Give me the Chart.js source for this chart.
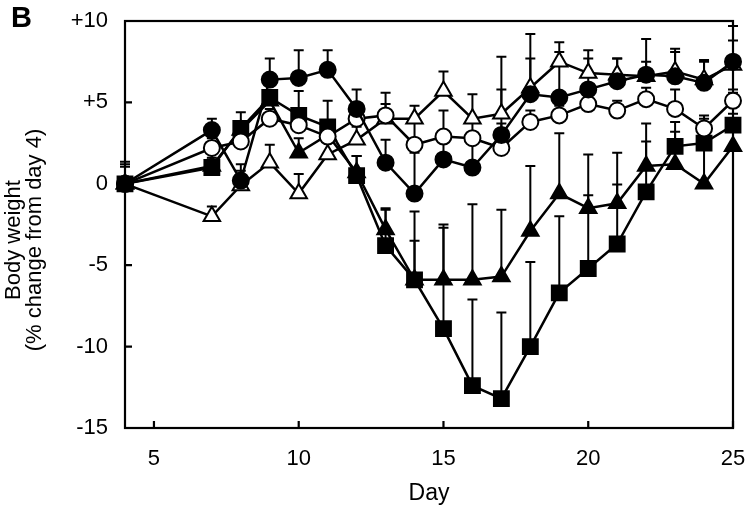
<!DOCTYPE html>
<html>
<head>
<meta charset="utf-8">
<script src="https://cdn.jsdelivr.net/npm/chart.js@4.4.0/dist/chart.umd.min.js"></script>
<style>
  html, body { margin: 0; padding: 0; background: #fff; }
  #wrap { position: relative; width: 750px; height: 513px; }
  #panel { position: absolute; left: 11px; top: 1px; font: bold 29px 'Liberation Sans', Arial, sans-serif; color: #000; }
</style>
</head>
<body>
<div id="wrap">
  <canvas id="chart" width="750" height="513"></canvas>
  <div id="panel">B</div>
</div>
<script>
// days measured
let days = [4, 7, 8, 9, 10, 11, 12, 13, 14, 15, 16, 17, 18, 19, 20, 21, 22, 23, 24, 25];

// mean % change, one list per group
let filledCircle   = [0, 3.3, 0.2, 6.4, 6.5, 7.0, 4.6, 1.3, -0.6, 1.5, 1.0, 3.0, 5.5, 5.3, 5.8, 6.3, 6.7, 6.6, 6.2, 7.5];
let openCircle     = [0, 2.2, 2.6, 4.0, 3.6, 2.9, 4.0, 4.2, 2.4, 2.9, 2.8, 2.2, 3.8, 4.2, 4.9, 4.5, 5.2, 4.6, 3.4, 5.1];
let openTriangle   = [0, -2.0, -0.1, 1.3, -0.6, 1.8, 2.7, 4.0, 4.0, 5.7, 4.0, 4.3, 5.9, 7.5, 6.8, 6.7, 6.6, 6.9, 6.4, 7.3];
let filledTriangle = [0, 1.1, 3.3, 5.1, 1.9, 3.0, 0.7, -2.8, -5.9, -5.9, -5.9, -5.7, -2.9, -0.6, -1.5, -1.2, 1.1, 1.2, 0.0, 2.3];
let filledSquare   = [0, 1.0, 3.4, 5.3, 4.2, 3.5, 0.5, -3.8, -5.9, -8.9, -12.4, -13.2, -10.0, -6.7, -5.2, -3.7, -0.5, 2.3, 2.5, 3.6];

// upper error bars (SD)
let errFilledCircle   = [1.35, 0.7, 1.0, 1.3, 1.7, 1.2, 1.2, 1.4, 2.5, 1.4, 1.5, 2.8, 2.2, 2.8, 1.9, 1.4, 2.2, 1.7, 1.4, 2.2];
let errOpenCircle     = [1.2, 0.6, 0.8, 0.6, 0.8, 1.0, 0.9, 1.4, 1.5, 1.6, 1.0, 1.5, 0.7, 0.6, 0.5, 0.6, 0.7, 1.2, 0.8, 0.7];
let errOpenTriangle   = [0, 0.6, 0.9, 1.1, 1.2, 1.1, 0.8, 0.9, 0.8, 1.2, 1.5, 3.5, 3.3, 1.2, 1.4, 1.0, 0.9, 1.2, 1.1, 1.5];
let errFilledTriangle = [0, 0.5, 0.5, 0.5, 0.9, 0.8, 1.0, 1.2, 2.4, 3.2, 4.65, 4.1, 4.0, 3.7, 3.3, 3.1, 2.6, 2.0, 2.5, 2.0];
let errFilledSquare   = [1.05, 0.5, 1.0, 0.4, 1.5, 1.6, 1.2, 2.3, 4.2, 6.4, 5.3, 5.3, 5.2, 4.7, 4.5, 3.65, 3.1, 1.5, 1.5, 2.0];

let xTicks = [5, 10, 15, 20, 25];
let yTicks = [-15, -10, -5, 0, 5, 10];
let yTitle = ['Body weight', '(% change from day 4)'];
let xTitle = 'Day';

const FONT = "'Liberation Sans', Arial, sans-serif";

function toPoints(vals) {
    return vals.map((v, i) => ({ x: days[i], y: v }));
}

function makeSet(vals, errs, style, fill, radius) {
    return {
        data: toPoints(vals),
        errors: errs,
        borderColor: '#000',
        borderWidth: 2.5,
        pointStyle: style,
        pointRadius: radius,
        pointBorderWidth: 2,
        pointBorderColor: '#000',
        pointBackgroundColor: fill,
        backgroundColor: fill,
        tension: 0,
        clip: false
    };
}

// error bars + frame + inner ticks
const extras = {
    id: 'extras',
    beforeDatasetsDraw(chart) {
        const { ctx, chartArea: a, scales: { x, y } } = chart;
        ctx.save();
        ctx.strokeStyle = '#000';
        ctx.lineWidth = 2.2;
        ctx.strokeRect(a.left, a.top, a.right - a.left, a.bottom - a.top);
        ctx.beginPath();
        xTicks.forEach(t => {
            const px = x.getPixelForValue(t);
            ctx.moveTo(px, a.bottom);
            ctx.lineTo(px, a.bottom - 7);
        });
        yTicks.forEach(t => {
            const py = y.getPixelForValue(t);
            ctx.moveTo(a.left, py);
            ctx.lineTo(a.left + 7, py);
        });
        ctx.stroke();

        ctx.lineWidth = 2;
        chart.data.datasets.forEach(ds => {
            ds.data.forEach((p, i) => {
                const e = ds.errors[i];
                if (!e) return;
                const px = x.getPixelForValue(p.x);
                const y0 = y.getPixelForValue(p.y);
                const y1 = y.getPixelForValue(p.y + e);
                ctx.beginPath();
                ctx.moveTo(px, y0);
                ctx.lineTo(px, y1);
                ctx.moveTo(px - 5, y1);
                ctx.lineTo(px + 5, y1);
                ctx.stroke();
            });
        });
        ctx.restore();
    },
    afterDraw(chart) {
        const { ctx } = chart;
        ctx.save();
        ctx.fillStyle = '#000';
        ctx.font = '22px ' + FONT;
        ctx.textAlign = 'center';
        ctx.textBaseline = 'middle';
        ctx.translate(0, 240);
        ctx.rotate(-Math.PI / 2);
        ctx.fillText(yTitle[0], 0, 14);
        ctx.fillText(yTitle[1], 0, 35);
        ctx.restore();
    }
};

let chart = new Chart(document.getElementById('chart').getContext('2d'), {
    type: 'line',
    data: {
        datasets: [
            makeSet(filledCircle, errFilledCircle, 'circle', '#000', 8),
            makeSet(openCircle, errOpenCircle, 'circle', '#fff', 8),
            makeSet(openTriangle, errOpenTriangle, 'triangle', '#fff', 9.5),
            makeSet(filledTriangle, errFilledTriangle, 'triangle', '#000', 9.5),
            makeSet(filledSquare, errFilledSquare, 'rect', '#000', 10.5)
        ]
    },
    options: {
        responsive: false,
        animation: false,
        layout: { padding: { left: 0, top: 21, right: 17, bottom: 0 } },
        plugins: { legend: { display: false }, tooltip: { enabled: false } },
        scales: {
            x: {
                type: 'linear',
                min: 4,
                max: 25,
                grid: { display: false, drawTicks: false },
                border: { display: false },
                afterBuildTicks: s => { s.ticks = xTicks.map(v => ({ value: v })); },
                afterFit: s => { s.height = 85; s.paddingLeft = 0; s.paddingRight = 0; },
                ticks: { color: '#000', font: { family: FONT, size: 22 }, padding: 18, maxRotation: 0 },
                title: { display: true, text: xTitle, color: '#000', font: { family: FONT, size: 23 }, padding: { top: 0, bottom: 6 } }
            },
            y: {
                min: -15,
                max: 10,
                grid: { display: false, drawTicks: false },
                border: { display: false },
                afterBuildTicks: s => { s.ticks = yTicks.map(v => ({ value: v })); },
                afterFit: s => { s.width = 125; s.paddingTop = 0; s.paddingBottom = 0; },
                ticks: {
                    color: '#000',
                    font: { family: FONT, size: 22 },
                    padding: 17,
                    callback: v => (v > 0 ? '+' + v : '' + v)
                }
            }
        }
    },
    plugins: [extras]
});
</script>
</body>
</html>
